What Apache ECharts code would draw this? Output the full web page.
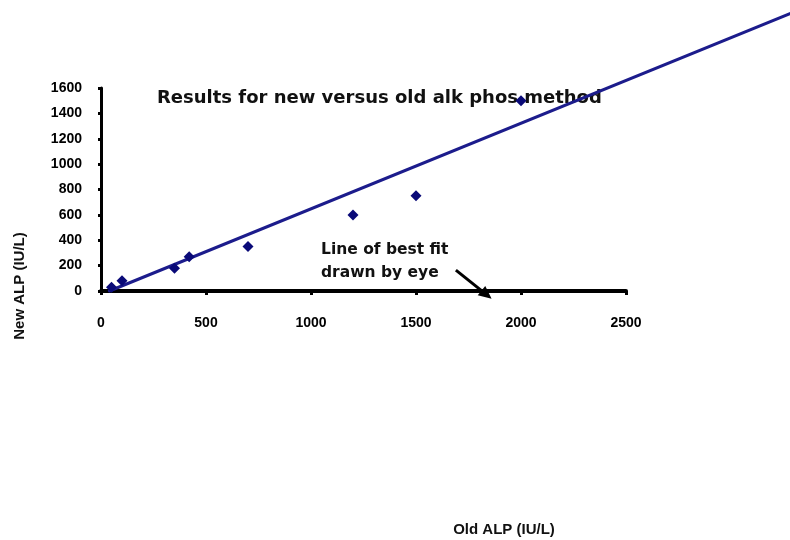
<!DOCTYPE html>
<html>
<head>
<meta charset="utf-8">
<script src="https://cdn.jsdelivr.net/npm/echarts@6/dist/echarts.min.js"></script>
<style>
  html, body { margin: 0; padding: 0; background: #ffffff; }
  #chart { width: 790px; height: 540px; }
</style>
</head>
<body>
<div id="chart"></div>
<script>
// Old vs new alkaline phosphatase method results (IU/L)
var oldALP = [50, 100, 350, 420, 700, 1200, 1500, 2000];
var newALP = [30, 80, 180, 270, 350, 600, 750, 1500];

// Line of best fit drawn by eye: two end points (old, new)
var fitOld = [40, 3300];
var fitNew = [0, 2200];

// Annotation arrow: tail and head (old, new)
var arrowOld = [1690, 1860];
var arrowNew = [165, -62];

var xTicks = [0, 500, 1000, 1500, 2000, 2500];
var yTicks = [0, 200, 400, 600, 800, 1000, 1200, 1400, 1600];

var points = oldALP.map(function (x, i) { return [x, newALP[i]]; });

var labelFont = { fontFamily: 'Liberation Sans, Arial, sans-serif', fontWeight: 'bold', fontSize: 14, color: '#000' };
var plain = function (v) { return String(v); };

// Segment drawn straight through the axes' scales, allowed to run past the plot area
function renderFit(params, api) {
  var a = api.coord([api.value(0), api.value(1)]);
  var b = api.coord([api.value(2), api.value(3)]);
  return {
    type: 'line',
    shape: { x1: a[0], y1: a[1], x2: b[0], y2: b[1] },
    style: { stroke: '#1c1c8c', lineWidth: 3, lineCap: 'round' }
  };
}

// Arrow with a filled head at its second point
function renderArrow(params, api) {
  var a = api.coord([api.value(0), api.value(1)]);
  var b = api.coord([api.value(2), api.value(3)]);
  var ang = Math.atan2(b[1] - a[1], b[0] - a[0]);
  var len = 13, half = 6;
  var bx = b[0] - len * Math.cos(ang), by = b[1] - len * Math.sin(ang);
  var nx = -Math.sin(ang) * half, ny = Math.cos(ang) * half;
  return {
    type: 'group',
    children: [
      { type: 'line', shape: { x1: a[0], y1: a[1], x2: bx, y2: by },
        style: { stroke: '#000', lineWidth: 3 } },
      { type: 'polygon', shape: { points: [[b[0], b[1]], [bx + nx, by + ny], [bx - nx, by - ny]] },
        style: { fill: '#000' } }
    ]
  };
}

var chart = echarts.init(document.getElementById('chart'), null, { renderer: 'canvas' });
chart.setOption({
  animation: false,
  backgroundColor: '#ffffff',
  grid: { left: 101, right: 164, top: 88, bottom: 249, containLabel: false },
  xAxis: {
    type: 'value',
    min: xTicks[0],
    max: xTicks[xTicks.length - 1],
    interval: xTicks[1] - xTicks[0],
    axisLine: { show: true, lineStyle: { color: '#000', width: 4 } },
    axisTick: { show: true, inside: false, length: 4, lineStyle: { color: '#000', width: 3 } },
    axisLabel: Object.assign({ margin: 25, formatter: plain }, labelFont),
    splitLine: { show: false }
  },
  yAxis: {
    type: 'value',
    min: yTicks[0],
    max: yTicks[yTicks.length - 1],
    interval: yTicks[1] - yTicks[0],
    axisLine: { show: true, lineStyle: { color: '#000', width: 3 } },
    axisTick: { show: true, inside: false, length: 3, lineStyle: { color: '#000', width: 3 } },
    axisLabel: Object.assign({ margin: 19, formatter: plain }, labelFont),
    splitLine: { show: false }
  },
  series: [
    {
      type: 'custom',
      name: 'fit',
      clip: false,
      silent: true,
      renderItem: renderFit,
      encode: { x: [0, 2], y: [1, 3] },
      data: [[fitOld[0], fitNew[0], fitOld[1], fitNew[1]]],
      z: 2
    },
    {
      type: 'custom',
      name: 'arrow',
      clip: false,
      silent: true,
      renderItem: renderArrow,
      encode: { x: [0, 2], y: [1, 3] },
      data: [[arrowOld[0], arrowNew[0], arrowOld[1], arrowNew[1]]],
      z: 4
    },
    {
      type: 'scatter',
      data: points,
      symbol: 'diamond',
      symbolSize: 11,
      itemStyle: { color: '#0a0a78', opacity: 1 },
      z: 3
    }
  ],
  graphic: [
    {
      type: 'text', left: 157, top: 89,
      style: { text: 'Results for new versus old alk phos method', fill: '#111',
        font: 'bold 18px "DejaVu Sans", sans-serif' }
    },
    {
      type: 'text', left: 321, top: 238,
      style: { text: 'Line of best fit\ndrawn by eye', fill: '#111', lineHeight: 23,
        font: 'bold 15.5px "DejaVu Sans", sans-serif' }
    },
    {
      type: 'text', x: 20, y: 286, rotation: Math.PI / 2,
      style: { text: 'New ALP (IU/L)', fill: '#111', align: 'center', verticalAlign: 'middle',
        font: 'bold 15px "Liberation Sans", Arial, sans-serif' }
    },
    {
      type: 'text', x: 504, y: 530,
      style: { text: 'Old ALP (IU/L)', fill: '#111', align: 'center', verticalAlign: 'middle',
        font: 'bold 15px "Liberation Sans", Arial, sans-serif' }
    }
  ]
});
</script>
</body>
</html>
